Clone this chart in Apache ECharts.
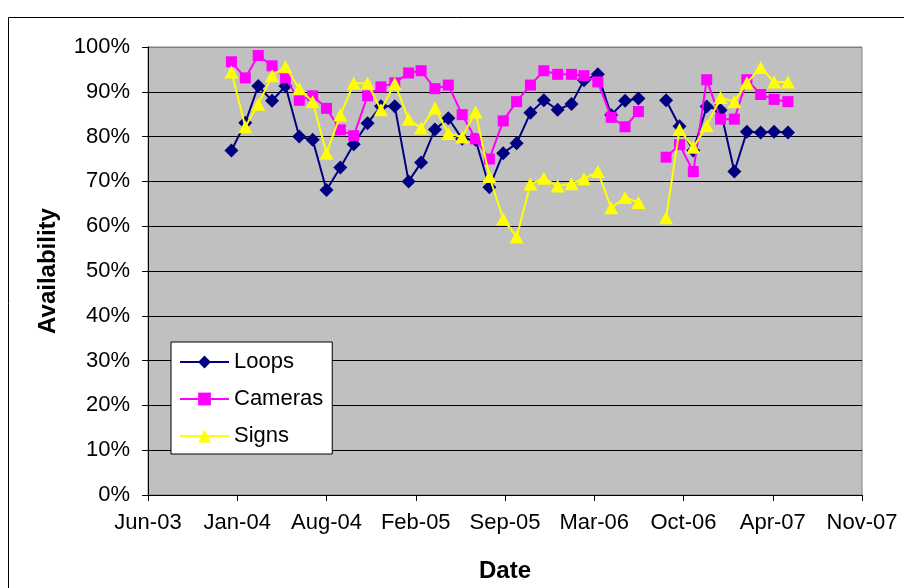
<!DOCTYPE html>
<html>
<head>
<meta charset="utf-8">
<title>Availability</title>
<script src="https://cdn.jsdelivr.net/npm/echarts@6/dist/echarts.min.js"></script>
<style>
  html, body { margin: 0; padding: 0; background: #fff; }
  #chart { width: 904px; height: 588px; }
</style>
</head>
<body>
<div id="chart"></div>
<script>
// Monthly readings, Jan 2004 – Jun 2007 (no data for Aug 2006)
const months = [
  '2004-01','2004-02','2004-03','2004-04','2004-05','2004-06','2004-07','2004-08','2004-09','2004-10','2004-11','2004-12',
  '2005-01','2005-02','2005-03','2005-04','2005-05','2005-06','2005-07','2005-08','2005-09','2005-10','2005-11','2005-12',
  '2006-01','2006-02','2006-03','2006-04','2006-05','2006-06','2006-07','2006-08','2006-09','2006-10','2006-11','2006-12',
  '2007-01','2007-02','2007-03','2007-04','2007-05','2007-06'
];

// Availability, percent
const loops = [
  76.9, 83.1, 91.3, 88.0, 91.3, 80.0, 79.3, 68.1, 73.1, 78.3, 83.0, 86.8,
  86.8, 70.0, 74.2, 81.6, 84.1, 79.5, 79.3, 68.7, 76.3, 78.5, 85.3, 88.1,
  86.0, 87.3, 92.6, 93.9, 84.8, 88.0, 88.5, null, 88.1, 82.3, 76.9, 86.7,
  85.9, 72.2, 81.1, 80.9, 81.1, 80.9
];
const cameras = [
  96.7, 93.1, 98.1, 95.8, 93.1, 88.1, 89.1, 86.3, 81.5, 80.2, 89.1, 91.1,
  92.0, 94.2, 94.7, 90.7, 91.5, 84.9, 79.5, 75.0, 83.5, 87.8, 91.5, 94.7,
  93.9, 93.9, 93.6, 92.2, 84.3, 82.2, 85.6, null, 75.4, 78.2, 72.2, 92.7,
  83.9, 83.9, 92.7, 89.4, 88.3, 87.8
];
const signs = [
  94.4, 82.2, 87.2, 93.6, 95.6, 90.7, 87.8, 76.3, 84.8, 91.9, 91.9, 86.0,
  91.8, 83.9, 81.9, 86.4, 80.7, 79.9, 85.5, 71.1, 61.6, 57.6, 69.4, 70.7,
  69.0, 69.5, 70.6, 72.2, 64.1, 66.4, 65.3, null, 61.9, 81.6, 77.6, 82.4,
  88.7, 87.8, 92.0, 95.4, 92.2, 92.2
];

// Date axis in spreadsheet day serials (day 0 = 1899-12-30), 200-day steps
const dateAxisMin = 37800;
const dateAxisMax = 39400;
const dateAxisStep = 200;

const EPOCH = Date.UTC(1899, 11, 30);
const DAY = 86400000;
const MONTH_NAMES = ['Jan','Feb','Mar','Apr','May','Jun','Jul','Aug','Sep','Oct','Nov','Dec'];

function toSerial(ym) {
  const [y, m] = ym.split('-').map(Number);
  return Math.round((Date.UTC(y, m - 1, 1) - EPOCH) / DAY);
}
function serialLabel(v) {
  const d = new Date(EPOCH + v * DAY);
  const yy = String(d.getUTCFullYear() % 100).padStart(2, '0');
  return MONTH_NAMES[d.getUTCMonth()] + '-' + yy;
}
function pairs(values) {
  return months.map((m, i) => [toSerial(m), values[i]]);
}

const FONT = "'Liberation Sans', Arial, sans-serif";

const chart = echarts.init(document.getElementById('chart'), null, { renderer: 'canvas' });

// black gridlines; the 100% line doubles as the grey plot frame
const gridColors = ['#000', '#000', '#000', '#000', '#000', '#000', '#000', '#000', '#000', '#000', '#808080'];

chart.setOption({
  animation: false,
  backgroundColor: '#fff',
  textStyle: { fontFamily: FONT },
  graphic: [{
    type: 'rect',
    shape: { x: 8.5, y: 17.5, width: 1000, height: 1000 },
    style: { fill: null, stroke: '#000', lineWidth: 1 },
    silent: true,
    z: -10
  }],
  grid: {
    left: 148, right: 42, top: 47, bottom: 91,
    show: true,
    backgroundColor: '#C0C0C0',
    borderColor: '#808080',
    borderWidth: 1
  },
  legend: {
    orient: 'vertical',
    left: 171, top: 342,
    padding: [9, 9, 7, 8],
    itemWidth: 49, itemHeight: 16, itemGap: 15,
    backgroundColor: '#fff',
    borderColor: '#000', borderWidth: 1,
    textStyle: { fontFamily: FONT, fontSize: 22, color: '#000' },
    data: ['Loops', 'Cameras', 'Signs']
  },
  xAxis: {
    type: 'value',
    min: dateAxisMin, max: dateAxisMax, interval: dateAxisStep,
    name: 'Date',
    nameLocation: 'middle',
    nameGap: 64,
    nameTextStyle: { fontFamily: FONT, fontSize: 24, fontWeight: 'bold', color: '#000' },
    axisLine: { show: true, onZero: false, lineStyle: { color: '#000', width: 1 } },
    axisTick: { show: true, inside: false, length: 6, lineStyle: { color: '#000' } },
    axisLabel: { margin: 17, fontFamily: FONT, fontSize: 22, color: '#000', formatter: serialLabel },
    splitLine: { show: false }
  },
  yAxis: {
    type: 'value',
    min: 0, max: 100, interval: 10,
    name: 'Availability',
    nameLocation: 'middle',
    nameRotate: 90,
    nameGap: 88,
    nameTextStyle: { fontFamily: FONT, fontSize: 24, fontWeight: 'bold', color: '#000' },
    axisLine: { show: true, lineStyle: { color: '#000', width: 1 } },
    axisTick: { show: true, inside: false, length: 6, lineStyle: { color: '#000' } },
    axisLabel: { margin: 18, fontFamily: FONT, fontSize: 22, color: '#000', formatter: '{value}%' },
    splitLine: { show: true, lineStyle: { color: gridColors, width: 1 } }
  },
  series: [
    {
      name: 'Loops', type: 'line',
      data: pairs(loops),
      symbol: 'diamond', symbolSize: 14,
      showAllSymbol: true, connectNulls: false,
      lineStyle: { color: '#000080', width: 2 },
      itemStyle: { color: '#000080', borderWidth: 0 },
      z: 2
    },
    {
      name: 'Cameras', type: 'line',
      data: pairs(cameras),
      symbol: 'rect', symbolSize: 11,
      showAllSymbol: true, connectNulls: false,
      lineStyle: { color: '#FF00FF', width: 2 },
      itemStyle: { color: '#FF00FF', borderWidth: 0 },
      z: 3
    },
    {
      name: 'Signs', type: 'line',
      data: pairs(signs),
      symbol: 'triangle', symbolSize: [14, 13],
      showAllSymbol: true, connectNulls: false,
      lineStyle: { color: '#FFFF00', width: 2 },
      itemStyle: { color: '#FFFF00', borderWidth: 0 },
      z: 4
    }
  ]
});
</script>
</body>
</html>
